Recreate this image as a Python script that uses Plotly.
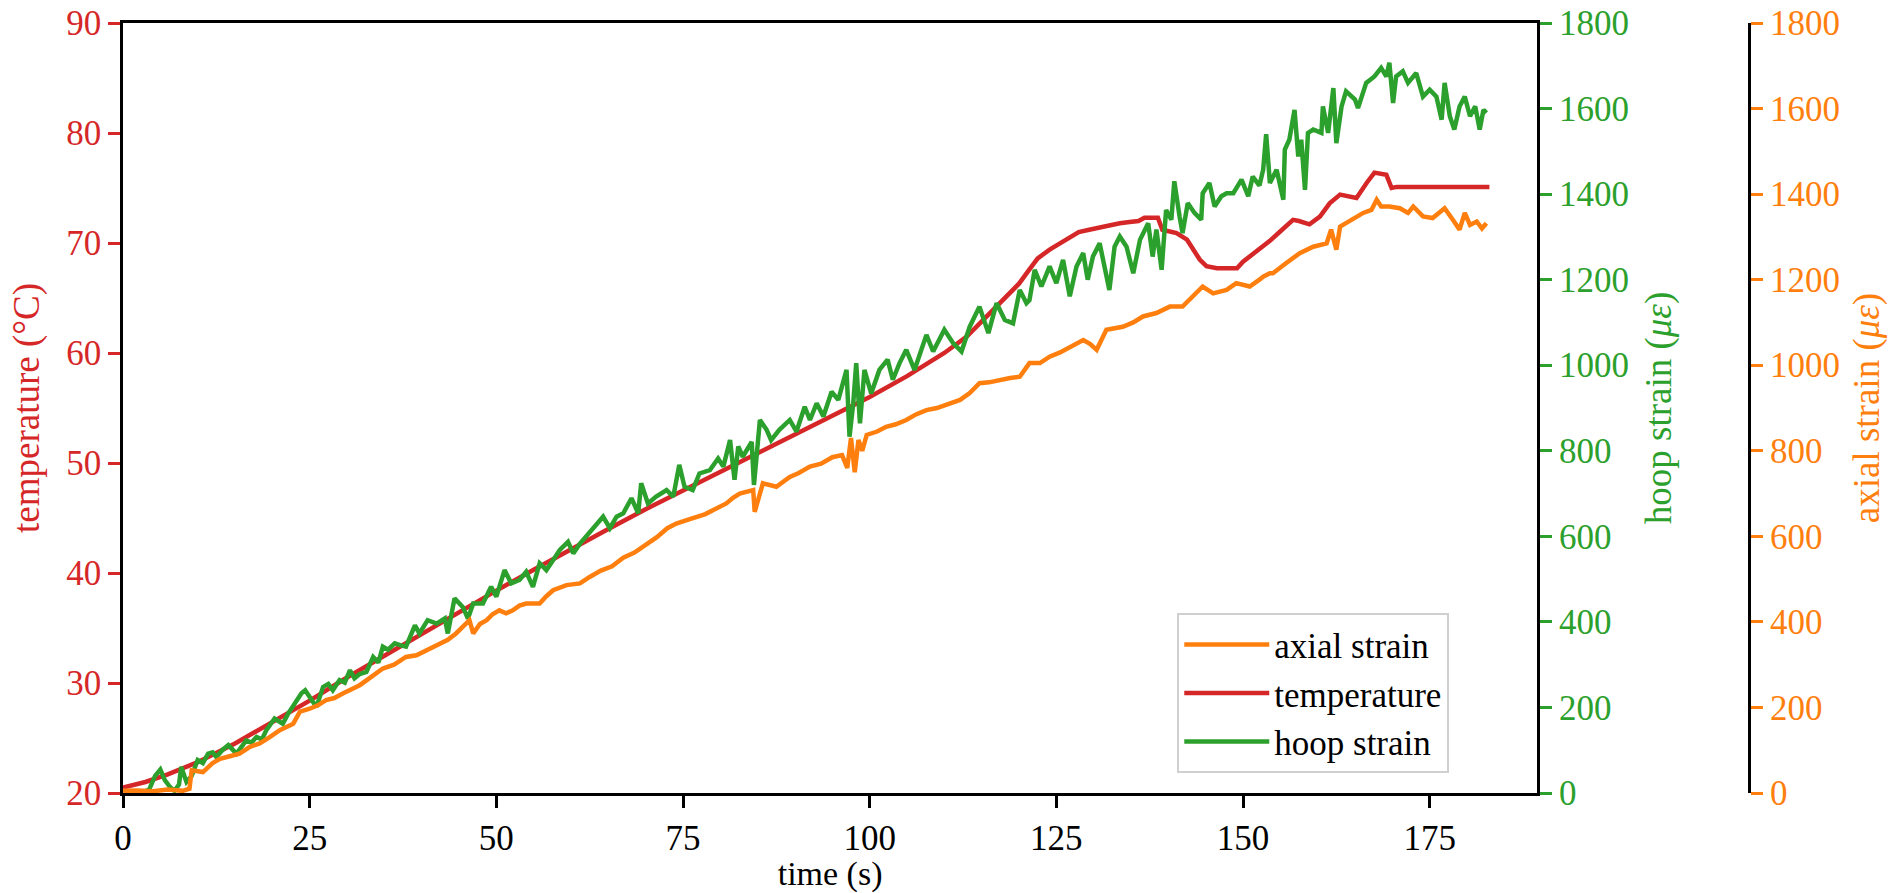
import plotly.graph_objects as go

# temperature (deg C)
temp_t = [0, 3, 6, 10, 15, 20, 25, 30, 35, 40, 45, 50, 55, 60, 65, 70, 75, 80, 85, 90,
          95, 100, 105, 110, 113, 116, 118, 120, 121.4, 122.5, 124.1, 125.5, 126.8, 128.0,
          129.4, 130.8, 132.1, 133.5, 134.8, 136.0, 136.8, 138.6, 139.2, 141.1, 142.5,
          143.3, 144.2, 145.1, 146.5, 148.0, 149.2, 150.0, 151.8, 153.6, 154.9, 156.7,
          157.5, 158.9, 160.3, 161.6, 163.0, 165.2, 166.6, 167.6, 169.2, 169.9, 170.6, 183.0]
temp_v = [20.5, 21.0, 21.7, 22.8, 24.5, 26.4, 28.4, 30.5, 32.5, 34.5, 36.5, 38.4, 40.3, 42.2,
          44.0, 45.8, 47.5, 49.2, 50.9, 52.6, 54.3, 56.0, 57.9, 60.0, 61.5, 63.5, 64.9, 66.3,
          67.6, 68.6, 69.4, 70.0, 70.6, 71.0, 71.2, 71.4, 71.65, 71.8, 71.9, 72.0, 72.3, 72.3,
          71.2, 70.9, 70.3, 69.4, 68.5, 67.9, 67.7, 67.7, 67.7, 68.3, 69.2, 70.2, 71.0, 72.1,
          72.0, 71.7, 72.4, 73.6, 74.4, 74.1, 75.5, 76.4, 76.2, 75.0, 75.1, 75.1]

# hoop strain (micro strain), green curve
hoop_t = [2.7, 3.5, 4.3, 5.0, 5.6, 6.3, 6.9, 7.5, 7.8, 8.5, 9.2, 10.0, 10.7, 11.4, 12.0, 12.5,
          13.3, 14.1, 15.2, 16.5, 17.2, 17.9, 18.6, 19.2, 20.3, 21.4, 22.1, 22.8, 23.9, 24.4,
          25.0, 25.9, 26.8, 27.5, 28.1, 29.0, 29.7, 30.4, 31.0, 31.7, 32.6, 33.5, 34.2, 34.8,
          35.5, 36.4, 37.2, 37.9, 39.1, 39.7, 40.8, 42.0, 43.1, 43.5, 44.4, 45.5, 46.2, 46.9,
          48.2, 49.3, 50.0, 51.1, 52.0, 53.1, 54.0, 54.9, 55.8, 56.7, 57.6, 58.5, 59.6, 60.3,
          61.2, 62.3, 63.4, 64.3, 65.2, 66.1, 67.0, 68.1, 69.0, 69.4, 70.3, 71.4, 72.8, 73.7,
          74.5, 75.2, 76.3, 77.2, 78.6, 79.7, 80.4, 81.3, 81.9, 82.4, 83.0, 84.2, 84.5, 85.3,
          86.2, 86.8, 87.9, 89.3, 90.2, 91.3, 92.0, 92.9, 93.8, 94.9, 95.8, 96.9, 97.3, 97.8,
          98.2, 98.7, 99.3, 100.2, 101.3, 102.4, 103.1, 104.0, 104.9, 106.0, 107.6, 108.5,
          110.0, 111.2, 112.3, 113.4, 114.7, 115.9, 117.0, 118.1, 119.2, 120.1, 121.0, 121.4,
          122.1, 123.0, 124.1, 125.0, 125.9, 126.8, 127.7, 128.6, 129.2, 129.9, 130.8, 132.1,
          132.8, 133.5, 134.4, 135.3, 136.2, 137.3, 137.9, 138.4, 139.1, 139.7, 140.4, 140.8,
          141.5, 141.9, 142.6, 143.5, 144.4, 144.6, 145.5, 146.2, 147.1, 147.8, 148.7, 149.8,
          150.7, 151.3, 152.2, 152.7, 153.1, 153.6, 154.5, 155.4, 155.6, 156.2, 156.9, 157.4,
          157.8, 158.3, 158.7, 159.4, 160.5, 160.7, 161.4, 162.1, 162.5, 163.2, 163.8, 165.0,
          165.4, 166.5, 167.6, 168.5, 169.2, 169.6, 170.1, 170.5, 171.4, 172.1, 173.2, 174.1,
          175.0, 175.9, 176.6, 177.0, 177.7, 178.3, 179.0, 179.7, 180.4, 181.1, 181.7, 182.2,
          182.6]
hoop_v = [2, 8, 40, 55, 30, 14, 5, 20, 61, 26, 40, 77, 70, 92, 95, 84,
          100, 112, 92, 123, 118, 131, 125, 147, 174, 162, 185, 205, 233, 240,
          225, 201, 248, 255, 240, 264, 258, 287, 268, 278, 283, 318, 305, 342,
          335, 350, 345, 342, 392, 373, 404, 396, 408, 373, 455, 435, 408, 443,
          443, 482, 459, 521, 490, 498, 517, 482, 537, 521, 544, 568, 587, 560,
          583, 605, 630, 646, 619, 646, 654, 689, 654, 724, 677, 693, 708, 693,
          767, 716, 708, 747, 755, 782, 763, 825, 732, 810, 786, 821, 720, 872,
          849, 825, 849, 872, 845, 903, 872, 911, 880, 938, 919, 989, 833, 911,
          1005, 864, 989, 934, 989, 1013, 966, 1005, 1036, 989, 1071, 1032,
          1083, 1051, 1032, 1090, 1137, 1075, 1145, 1106, 1098, 1176, 1145, 1152,
          1223, 1184, 1231, 1192, 1246, 1161, 1231, 1262, 1200, 1254, 1285, 1176,
          1277, 1301, 1277, 1215, 1293, 1332, 1254, 1317, 1223, 1363, 1340, 1430,
          1348, 1309, 1379, 1356, 1340, 1402, 1426, 1371, 1395, 1402, 1402, 1434,
          1395, 1441, 1420, 1457, 1540, 1426, 1457, 1387, 1504, 1527, 1597, 1488,
          1527, 1410, 1543, 1551, 1543, 1605, 1543, 1648, 1519, 1605, 1640, 1621,
          1601, 1660, 1675, 1695, 1675, 1707, 1613, 1675, 1687, 1660, 1683, 1628,
          1644, 1628, 1574, 1660, 1582, 1551, 1605, 1628, 1582, 1605, 1551, 1597,
          1590]

# axial strain (micro strain), orange curve
axial_t = [0, 2, 4, 6, 8, 8.9, 9.2, 10.7, 12.0, 13.0, 14.3, 15.6, 17.0, 18.3, 19.6, 21.0,
           22.8, 23.7, 25.0, 26.1, 27.2, 28.3, 29.5, 30.6, 31.7, 33.3, 34.8, 36.3, 37.9,
           39.3, 40.6, 42.4, 43.5, 44.6, 45.5, 46.4, 46.9, 47.8, 48.7, 49.5, 50.4, 51.3,
           52.2, 53.1, 54.0, 55.8, 56.7, 57.6, 59.4, 61.2, 62.5, 64.0, 65.5, 67.0, 68.5,
           70.0, 71.5, 72.9, 74.1, 75.5, 76.8, 78.0, 79.0, 80.0, 80.8, 81.7, 82.6, 84.4,
           84.6, 85.7, 87.5, 89.3, 90.5, 92.0, 93.5, 95.0, 96.3, 97.0, 97.5, 98.0, 98.5,
           99.0, 99.6, 101.0, 102.2, 103.5, 104.9, 106.2, 107.6, 109.0, 110.3, 112.1, 113.4,
           114.7, 116.0, 117.4, 118.8, 120.1, 121.4, 122.8, 124.1, 125.5, 126.8, 128.6,
           129.5, 130.4, 131.7, 133.9, 135.3, 136.6, 138.4, 140.2, 141.9, 143.7, 144.6,
           146.0, 147.8, 149.1, 150.9, 152.2, 152.7, 153.6, 154.0, 155.8, 157.6, 159.4,
           161.2, 161.8, 162.5, 163.0, 164.7, 166.1, 167.2, 167.9, 168.5, 169.6, 171.0,
           172.1, 172.8, 174.1, 175.4, 177.0, 178.1, 179.0, 179.7, 180.4, 181.3, 182.0, 182.6]
axial_v = [5, 6, 4, 8, 5, 10, 53, 49, 70, 80, 86, 92, 108, 116, 130, 147,
           162, 190, 197, 205, 217, 222, 233, 244, 252, 272, 291, 300, 318,
           322, 334, 350, 358, 373, 388, 404, 373, 395, 404, 418, 427, 420,
           427, 438, 443, 443, 460, 474, 486, 490, 505, 520, 530, 550, 562,
           580, 598, 619, 630, 638, 646, 652, 661, 670, 677, 690, 700, 708,
           657, 724, 716, 739, 748, 763, 770, 785, 790, 760, 830, 750, 825,
           800, 837, 845, 856, 862, 872, 885, 895, 900, 907, 919, 935,
           958, 960, 966, 970, 973, 1005, 1005, 1020, 1030, 1043, 1059,
           1050, 1036, 1083, 1090, 1100, 1114, 1122, 1137, 1137, 1168, 1184,
           1168, 1176, 1192, 1184, 1200, 1207, 1215, 1215, 1239, 1262, 1277,
           1285, 1317, 1270, 1324, 1340, 1356, 1363, 1387, 1371, 1371, 1367,
           1356, 1371, 1348, 1344, 1367, 1340, 1317, 1356, 1328, 1336, 1320, 1332]

RED = '#d62728'
GREEN = '#2ca02c'
ORANGE = '#ff7f0e'
FONT = 'Liberation Serif'
TICK_FS = 35
TITLE_FS = 37

fig = go.Figure()
fig.add_trace(go.Scatter(x=axial_t, y=axial_v, mode='lines', name='axial strain',
                         line=dict(color=ORANGE, width=4.5), yaxis='y3', legendgroup='a'))
fig.add_trace(go.Scatter(x=temp_t, y=temp_v, mode='lines', name='temperature',
                         line=dict(color=RED, width=4.5), yaxis='y', legendgroup='b'))
fig.add_trace(go.Scatter(x=hoop_t, y=hoop_v, mode='lines', name='hoop strain',
                         line=dict(color=GREEN, width=4.5), yaxis='y2', legendgroup='c'))

tick_common = dict(ticks='outside', ticklen=12, tickwidth=2.5, showline=True,
                   linecolor='black', linewidth=2.5, showgrid=False, zeroline=False)

fig.update_layout(
    template='none',
    width=1898, height=893,
    margin={'l': 123, 'r': 100, 't': 23, 'b': 100},
    paper_bgcolor='white', plot_bgcolor='white',
    font=dict(family=FONT, size=TICK_FS, color='black'),
    xaxis=dict(domain=[0, 0.8443], range=[0, 189.4], tick0=0, dtick=25,
               tickcolor='black', mirror=True, anchor='y',
               title=dict(text='time (s)', standoff=9, font=dict(size=34)),
               tickfont=dict(color='black', size=TICK_FS), **tick_common),
    yaxis=dict(range=[20, 90], dtick=10, tickcolor=RED, anchor='x',
               tickfont=dict(color=RED, size=TICK_FS),
               title=dict(text='temperature (°C)', font=dict(color=RED, size=TITLE_FS),
                          standoff=16),
               **tick_common),
    yaxis2=dict(range=[0, 1800], dtick=200, tickcolor=GREEN, overlaying='y',
                side='right', anchor='x', tickfont=dict(color=GREEN, size=TICK_FS),
                title=dict(text='hoop strain (<i>με</i>)',
                           font=dict(color=GREEN, size=TITLE_FS), standoff=18),
                **tick_common),
    yaxis3=dict(range=[0, 1800], dtick=200, tickcolor=ORANGE, overlaying='y',
                side='right', anchor='free', position=0.9709,
                tickfont=dict(color=ORANGE, size=TICK_FS),
                title=dict(text='axial strain (<i>με</i>)',
                           font=dict(color=ORANGE, size=TITLE_FS), standoff=14),
                **tick_common),
    legend=dict(x=0.7918, xanchor='right', y=0.0256, yanchor='bottom',
                bgcolor='white', bordercolor='#d0d0d0', borderwidth=2,
                font=dict(size=35), tracegroupgap=0, traceorder='normal',
                itemwidth=85),
    showlegend=True,
)

fig.write_html('out.html', config={'displayModeBar': False},
               post_script="document.body.style.margin='0';")
